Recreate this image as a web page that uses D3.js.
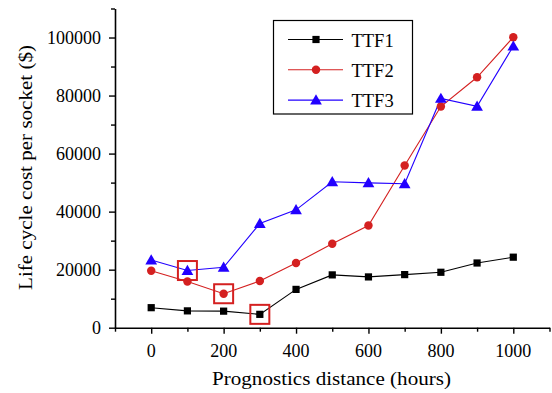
<!DOCTYPE html>
<html>
<head>
<meta charset="utf-8">
<script src="https://cdn.jsdelivr.net/npm/d3@7"></script>
<style>
  html, body { margin: 0; padding: 0; background: #fff; }
  svg { display: block; }
  svg text { font-family: "Liberation Serif", "Times New Roman", serif; }
</style>
</head>
<body>
<svg id="chart" width="552" height="393"></svg>
<script>
const hours = [0, 100, 200, 300, 400, 500, 600, 700, 800, 900, 1000];
const ttf1 = [6900, 5800, 5700, 4600, 13200, 18200, 17500, 18300, 19100, 22300, 24300];
const ttf2 = [19600, 15900, 11700, 16100, 22300, 28900, 35200, 55900, 76200, 86300, 100100];
const ttf3 = [23300, 19700, 20800, 35900, 40600, 50300, 49900, 49600, 79000, 76300, 97000];
const seriesNames = ["TTF1", "TTF2", "TTF3"];
const highlights = [[100, 19700], [200, 11700], [300, 4600]];
const xTickLabels = [0, 200, 400, 600, 800, 1000];
const yTickLabels = [0, 20000, 40000, 60000, 80000, 100000];
const xTitle = "Prognostics distance (hours)";
const yTitle = "Life cycle cost per socket ($)";

const FONT = "Liberation Serif, Times New Roman, serif";
const svg = d3.select("#chart");
const mLeft = 115, mRight = 549.5, mTop = 8.5, mBottom = 327.7;

const x = d3.scaleLinear().domain([-100, 1100]).range([mLeft, mRight]);
const y = d3.scaleLinear().domain([0, 110000]).range([mBottom, mTop]);

// Axes
const xAxis = d3.axisBottom(x).tickValues(d3.range(-100, 1101, 100))
  .tickSize(0).tickFormat("");
const gx = svg.append("g").attr("transform", `translate(0,${mBottom})`).call(xAxis);
gx.select(".domain").attr("stroke", "#000").attr("stroke-width", 1.6);
gx.selectAll(".tick line").remove();
gx.selectAll(".tick").append("line")
  .attr("y1", 0)
  .attr("y2", d => (d % 200 === 0 ? 6 : 4))
  .attr("stroke", "#000").attr("stroke-width", 1.4);
svg.append("g").selectAll("text").data(xTickLabels).join("text")
  .attr("x", d => x(d)).attr("y", 356.5)
  .attr("text-anchor", "middle").attr("font-family", FONT).attr("font-size", 18).attr("fill", "#000")
  .text(d => d);

const yAxis = d3.axisLeft(y).tickValues(d3.range(0, 110001, 10000))
  .tickSize(0).tickFormat("");
const gy = svg.append("g").attr("transform", `translate(${mLeft},0)`).call(yAxis);
gy.select(".domain").attr("stroke", "#000").attr("stroke-width", 1.6);
gy.selectAll(".tick line").remove();
gy.selectAll(".tick").append("line")
  .attr("x1", 0)
  .attr("x2", d => (d % 20000 === 0 ? -6 : -4))
  .attr("stroke", "#000").attr("stroke-width", 1.4);
svg.append("g").selectAll("text").data(yTickLabels).join("text")
  .attr("x", 101).attr("y", d => y(d) + 6)
  .attr("text-anchor", "end").attr("font-family", FONT).attr("font-size", 18).attr("fill", "#000")
  .text(d => d);

// Titles
svg.append("text").attr("x", 331.5).attr("y", 385)
  .attr("text-anchor", "middle").attr("font-family", FONT).attr("font-size", 18.5).attr("fill", "#000")
  .attr("textLength", 239).attr("lengthAdjust", "spacingAndGlyphs")
  .text(xTitle);
svg.append("text").attr("transform", `translate(32,${167.5}) rotate(-90)`)
  .attr("text-anchor", "middle").attr("font-family", FONT).attr("font-size", 18.5).attr("fill", "#000")
  .attr("textLength", 245).attr("lengthAdjust", "spacingAndGlyphs")
  .text(yTitle);

const colors = ["#000000", "#d42020", "#2200ff"];
const shapes = [d3.symbolSquare, d3.symbolCircle, d3.symbolTriangle];
const sizes = [52, 56, 60];
const data = [ttf1, ttf2, ttf3];

const line = d3.line().x((d, i) => x(hours[i])).y(d => y(d));

data.forEach((vals, k) => {
  svg.append("path").datum(vals)
    .attr("d", line).attr("fill", "none")
    .attr("stroke", colors[k]).attr("stroke-width", 1.1);
});
data.forEach((vals, k) => {
  svg.append("g").selectAll("path").data(vals).join("path")
    .attr("transform", (d, i) => `translate(${x(hours[i])},${y(d) + (k === 2 ? 1 : 0)})`)
    .attr("d", d3.symbol().type(shapes[k]).size(sizes[k]))
    .attr("fill", colors[k]);
});

// Highlight boxes
svg.append("g").selectAll("rect").data(highlights).join("rect")
  .attr("x", d => x(d[0]) - 9.5).attr("y", d => y(d[1]) - 9.5)
  .attr("width", 19).attr("height", 19)
  .attr("fill", "none").attr("stroke", "#d42020").attr("stroke-width", 2);

// Legend
const lg = svg.append("g");
lg.append("rect").attr("x", 273.5).attr("y", 20.5).attr("width", 139).attr("height", 93.5)
  .attr("fill", "#fff").attr("stroke", "#000").attr("stroke-width", 1.2);
seriesNames.forEach((name, k) => {
  const ly = 39.5 + k * 30.3;
  lg.append("line").attr("x1", 288).attr("x2", 343).attr("y1", ly).attr("y2", ly)
    .attr("stroke", colors[k]).attr("stroke-width", 1.1);
  lg.append("path").attr("transform", `translate(316,${ly + (k === 2 ? 1 : 0)})`)
    .attr("d", d3.symbol().type(shapes[k]).size(sizes[k])).attr("fill", colors[k]);
  lg.append("text").attr("x", 351.5).attr("y", ly + 7)
    .attr("font-family", FONT).attr("font-size", 18.5).attr("fill", "#000").text(name);
});
</script>
</body>
</html>
